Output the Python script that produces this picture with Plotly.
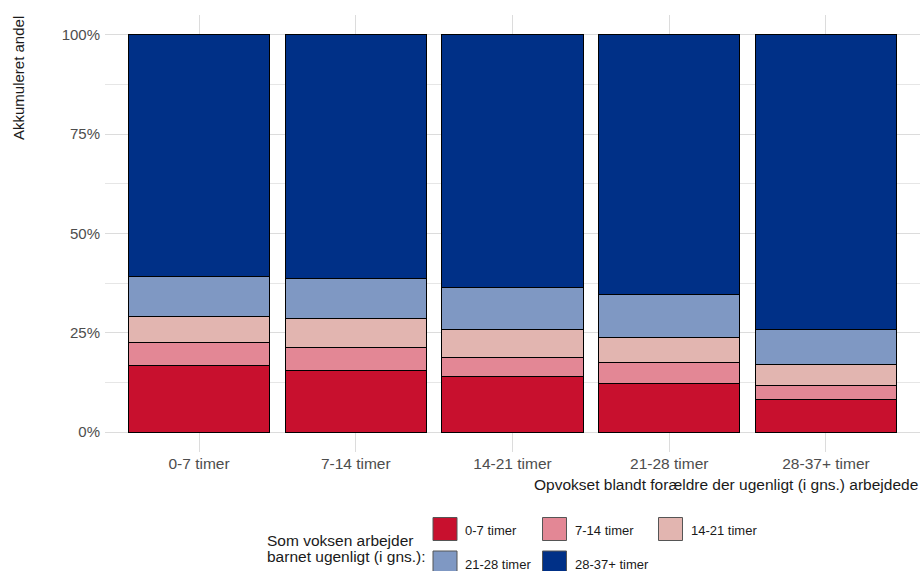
import plotly.graph_objects as go

# ---- data -------------------------------------------------------------
categories = ["0-7 timer", "7-14 timer", "14-21 timer", "21-28 timer", "28-37+ timer"]
series_names = ["0-7 timer", "7-14 timer", "14-21 timer", "21-28 timer", "28-37+ timer"]
share_0_7 = [16.8, 15.6, 14.0, 12.2, 8.1]
share_7_14 = [5.7, 5.7, 4.9, 5.4, 3.7]
share_14_21 = [6.6, 7.3, 7.0, 6.3, 5.3]
share_21_28 = [10.1, 10.0, 10.6, 10.8, 8.8]
share_28_37 = [60.8, 61.4, 63.5, 65.3, 74.1]
series_values = [share_0_7, share_7_14, share_14_21, share_21_28, share_28_37]
y_ticks = [0, 0.25, 0.5, 0.75, 1.0]
y_tick_labels = ["0%", "25%", "50%", "75%", "100%"]

colors = ["#C8102E", "#E38795", "#E2B5B0", "#7F98C3", "#003087"]

FONT = "Arial, Liberation Sans, sans-serif"
W, H = 921, 571
ML, MR, MT, MB = 105, 1, 15, 119
PW, PH = W - ML - MR, H - MT - MB


def px(x):
    return (x - ML) / PW


def py(y):
    return (H - MB - y) / PH


fig = go.Figure()
for name, vals, col in zip(series_names, series_values, colors):
    fig.add_trace(go.Bar(
        x=categories, y=[v / 100 for v in vals], name=name,
        marker=dict(color=col, line=dict(color="#000000", width=1)),
        width=0.9, showlegend=False,
    ))

fig.update_layout(
    width=W, height=H, barmode="stack",
    margin=dict(l=ML, r=MR, t=MT, b=MB),
    paper_bgcolor="white", plot_bgcolor="white",
    font=dict(family=FONT, size=15, color="#4d4d4d"),
    xaxis=dict(range=[-0.6, 4.6], showgrid=True, gridcolor="#dcdcdc", gridwidth=1,
               showline=False, zeroline=False, ticks="",
               tickfont=dict(size=15.5, color="#4d4d4d")),
    yaxis=dict(range=[-0.05, 1.05], tickvals=y_ticks, ticktext=y_tick_labels,
               showgrid=True, gridcolor="#dcdcdc", gridwidth=1,
               minor=dict(tickvals=[0.125, 0.375, 0.625, 0.875], showgrid=True,
                          gridcolor="#e6e6e6", gridwidth=1),
               zeroline=False, showline=False, ticks="", ticklabelstandoff=4,
               tickfont=dict(size=15, color="#4d4d4d")),
)

annotations = [
    dict(text="Akkumuleret andel", xref="paper", yref="paper", x=px(19), y=py(14),
         xanchor="center", yanchor="top", textangle=-90, showarrow=False,
         font=dict(size=15, color="#1a1a1a")),
    dict(text="Opvokset blandt forældre der ugenligt (i gns.) arbejdede", xref="paper",
         yref="paper", x=1, y=py(484), xanchor="right", yanchor="middle",
         showarrow=False, font=dict(size=15.5, color="#1a1a1a")),
    dict(text="Som voksen arbejder", xref="paper", yref="paper", x=px(265), y=py(540),
         xanchor="left", yanchor="middle", showarrow=False,
         font=dict(size=15.5, color="#1a1a1a")),
    dict(text="barnet ugenligt (i gns.):", xref="paper", yref="paper", x=px(265), y=py(556),
         xanchor="left", yanchor="middle", showarrow=False,
         font=dict(size=15.5, color="#1a1a1a")),
]

# manual legend (keys + labels)
key_x = [433, 542.5, 658.5, 433, 542.5]
key_y = [517.5, 517.5, 517.5, 551, 551]
shapes = []
for name, col, kx, ky in zip(series_names, colors, key_x, key_y):
    shapes.append(dict(type="rect", xref="paper", yref="paper",
                       x0=px(kx), x1=px(kx + 24), y0=py(ky + 23), y1=py(ky),
                       fillcolor=col, line=dict(color="#555555", width=1)))
    annotations.append(dict(text=name, xref="paper", yref="paper", x=px(kx + 30),
                            y=py(ky + 13), xanchor="left", yanchor="middle",
                            showarrow=False, font=dict(size=13, color="#1a1a1a")))

fig.update_layout(annotations=annotations, shapes=shapes)
fig.write_html(
    "out.html",
    config={"displayModeBar": False},
    post_script="document.body.style.margin='0';document.body.style.padding='0';"
                "document.documentElement.style.overflow='hidden';",
)
